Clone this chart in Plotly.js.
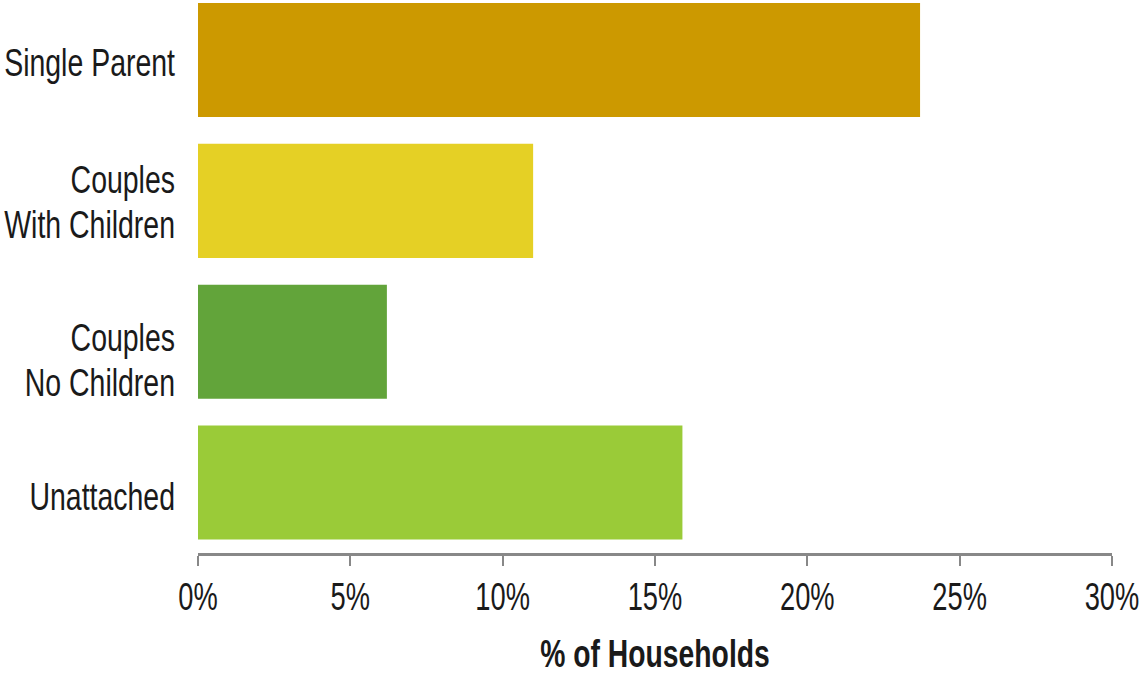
<!DOCTYPE html>
<html>
<head>
<meta charset="utf-8">
<script src="https://cdn.plot.ly/plotly-3.0.1.min.js"></script>
<style>html,body{margin:0;padding:0;background:#fff;}#chart{width:1141px;height:677px;}</style>
</head>
<body>
<div id="chart"></div>
<script>
const categories = ["Unattached", "Couples<br>No Children", "Couples<br>With Children", "Single Parent"];
const values = [15.9, 6.2, 11.0, 23.7];
const barColors = ["#9ACB38", "#62A43A", "#E5D025", "#CC9900"];
const tickVals = [0, 5, 10, 15, 20, 25, 30];
const tickText = ["0%", "5%", "10%", "15%", "20%", "25%", "30%"];

const FONT = "'Liberation Sans', Arial, sans-serif";

const trace = {
  type: "bar",
  orientation: "h",
  x: values,
  y: categories,
  marker: {color: barColors, line: {width: 0}},
  width: 0.81,
  hoverinfo: "x+y"
};

const layout = {
  width: 1141,
  height: 677,
  margin: {l: 198, r: 29, t: 0, b: 124, pad: 0},
  paper_bgcolor: "#ffffff",
  plot_bgcolor: "#ffffff",
  showlegend: false,
  font: {family: FONT, color: "#1a1a1a", size: 39},
  xaxis: {
    range: [0, 30],
    tickvals: tickVals,
    ticktext: tickText,
    showgrid: false,
    zeroline: false,
    showline: true,
    linecolor: "#888888",
    linewidth: 3,
    ticks: "outside",
    ticklen: 10,
    tickwidth: 2,
    tickcolor: "#888888",
    ticklabelstandoff: 2,
    ticklabeloverflow: "allow",
    tickfont: {family: FONT, size: 39, color: "#1a1a1a"},
    title: {text: "<b>% of Households</b>", font: {family: FONT, size: 38, color: "#1a1a1a"}, standoff: 14}
  },
  yaxis: {
    type: "category",
    range: [-0.5, 3.426],
    showgrid: false,
    zeroline: false,
    showline: false,
    ticks: "",
    ticklabelstandoff: 22,
    tickfont: {family: FONT, size: 39, color: "#1a1a1a"}
  },
  bargap: 0.19
};

// Label vertical centres (pixels)
const yLabelCenters = {"Single Parent": 62.5, "CouplesWith Children": 202, "CouplesNo Children": 360, "Unattached": 496};
const xTickCenter = 597;
const xTitleCenter = 654;

function addTransform(el, str) {
  el.setAttribute("transform", (el.getAttribute("transform") || "") + " " + str);
}
function condense(el, k) {
  const ax = parseFloat(el.getAttribute("x")) || 0;
  addTransform(el, "translate(" + ax + ",0) scale(" + k + ",1) translate(" + (-ax) + ",0)");
}
function placeY(el, target) {
  const r = el.getBoundingClientRect();
  const dy = target - (r.top + r.height / 2);
  addTransform(el, "translate(0," + dy.toFixed(2) + ")");
}

function finish(gd) {
  gd.querySelectorAll(".ytick text").forEach(t => {
    const lines = t.querySelectorAll("tspan.line");
    lines.forEach((s, i) => { if (i > 0) s.setAttribute("dy", "45.5"); });
    condense(t, 0.73);
    const key = t.textContent;
    if (yLabelCenters[key] !== undefined) placeY(t, yLabelCenters[key]);
  });
  gd.querySelectorAll(".xtick text").forEach(t => {
    condense(t, 0.70);
    placeY(t, xTickCenter);
  });
  gd.querySelectorAll(".xtitle").forEach(t => {
    condense(t, 0.745);
    placeY(t, xTitleCenter);
  });
}

Plotly.newPlot("chart", [trace], layout, {displayModeBar: false, staticPlot: true}).then(gd => finish(gd));
</script>
</body>
</html>
